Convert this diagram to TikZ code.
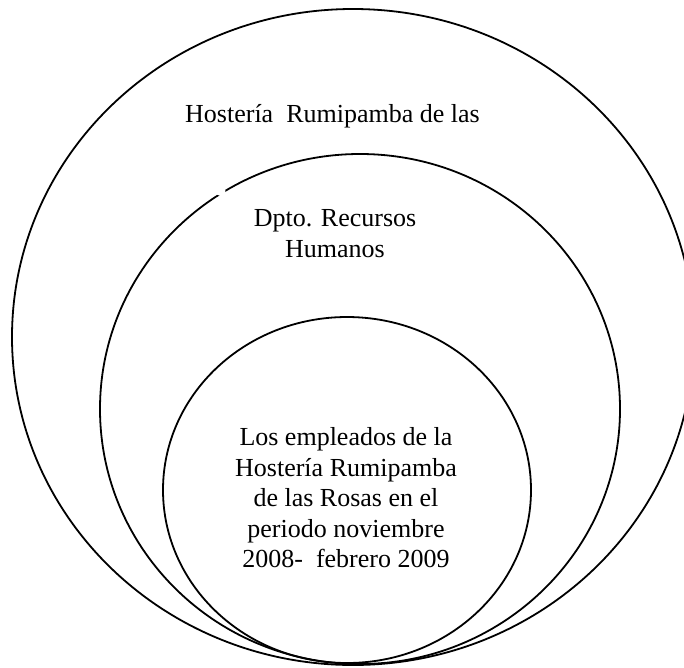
\documentclass[tikz,border=0pt]{standalone}
\usepackage{fontspec}
\setmainfont{Liberation Serif}
\begin{document}
\begin{tikzpicture}[x=1pt,y=-1pt,
  ring/.style={draw=black,line width=1.8pt},
  lbl/.style={inner sep=0pt,font=\fontsize{26}{30.5}\selectfont,align=center}]
\useasboundingbox (0,0) rectangle (684,667);
\clip (0,0) rectangle (684,667);
\coordinate (co) at (353,337);
\coordinate (cm) at (360,409);
\coordinate (ci) at (347,490);
\draw[ring] (co) ellipse [x radius=341,y radius=328];
\draw[ring] (cm) ellipse [x radius=260,y radius=255];
\fill[white] (220.5,191) circle (5);
\draw[ring] (ci) ellipse [x radius=184,y radius=173];
\node[lbl,anchor=base west] (t1) at (185,122) {Hostería~ Rumipamba de las};
\node[lbl] (t2) at (335,233.5) {Dpto. Recursos\\Humanos};
\node[lbl] (t3) at (346,498) {Los empleados de la\\Hostería Rumipamba\\de las Rosas en el\\periodo noviembre\\2008-~ febrero 2009};
\end{tikzpicture}
\end{document}
